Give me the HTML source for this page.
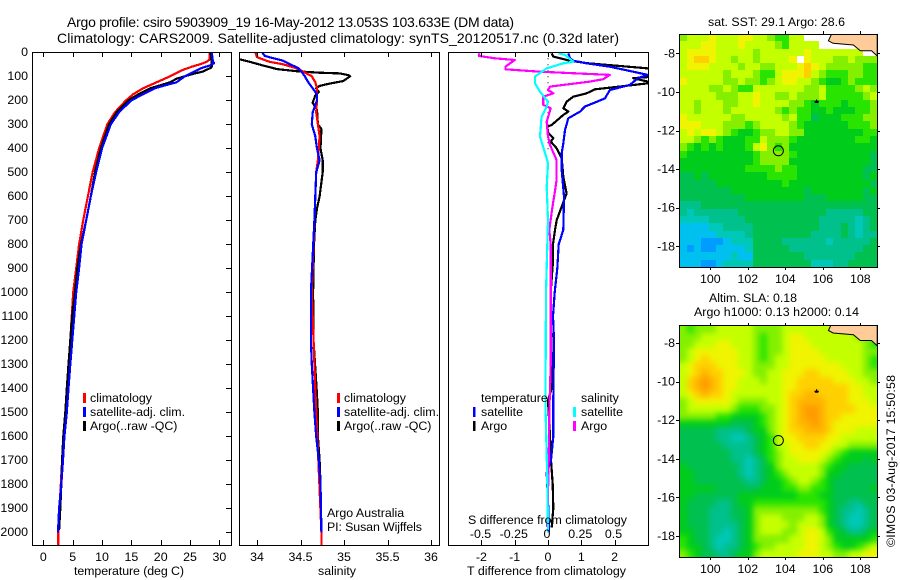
<!DOCTYPE html>
<html lang="en">
<head>
<meta charset="utf-8">
<title>Argo profile csiro 5903909_19</title>
<style>
html,body{margin:0;padding:0;background:#fff;}
svg{display:block;font-family:"Liberation Sans",sans-serif;font-size:12.4px;fill:#000;}
text{fill:#000;}
</style>
</head>
<body>
<svg id="chart" xmlns="http://www.w3.org/2000/svg" width="900" height="580" viewBox="0 0 900 580">
  <defs>
    <clipPath id="clip-temp"><rect x="32" y="52" width="199" height="493"/></clipPath>
    <clipPath id="clip-sal"><rect x="240" y="52" width="199" height="493"/></clipPath>
    <clipPath id="clip-diff"><rect x="449" y="52" width="199" height="493"/></clipPath>
    <clipPath id="clip-map1"><rect x="679" y="34" width="198" height="233"/></clipPath>
    <clipPath id="clip-map2"><rect x="679" y="326" width="198" height="231"/></clipPath>
    <filter id="smooth-sla" filterUnits="userSpaceOnUse" x="650" y="300" width="250" height="280" color-interpolation-filters="sRGB">
      <feGaussianBlur stdDeviation="3"/>
    </filter>
  </defs>
  <text x="67" y="27" font-size="14" textLength="447" lengthAdjust="spacing">Argo profile: csiro 5903909_19 16-May-2012 13.053S 103.633E (DM data)</text>
  <text x="57" y="43" font-size="14" textLength="562" lengthAdjust="spacing">Climatology: CARS2009. Satellite-adjusted climatology: synTS_20120517.nc (0.32d later)</text>

  <g id="marks"></g>

  <text x="74" y="575" textLength="110" lengthAdjust="spacing">temperature (deg C)</text>
  <text x="318" y="575" textLength="38" lengthAdjust="spacing">salinity</text>
  <text x="467" y="575" textLength="159" lengthAdjust="spacing">T difference from climatology</text>
  <text x="468" y="524" textLength="159" lengthAdjust="spacing">S difference from climatology</text>

  <g>
    <rect x="83" y="393" width="3" height="10" fill="#ff0000"/><text x="90" y="402">climatology</text>
    <rect x="83" y="407" width="3" height="10" fill="#0000ff"/><text x="90" y="416">satellite-adj. clim.</text>
    <rect x="83" y="421" width="3" height="10" fill="#000000"/><text x="90" y="430">Argo(..raw -QC)</text>
  </g>
  <g>
    <rect x="337" y="393" width="3" height="10" fill="#ff0000"/><text x="344" y="402">climatology</text>
    <rect x="337" y="407" width="3" height="10" fill="#0000ff"/><text x="344" y="416">satellite-adj. clim.</text>
    <rect x="337" y="421" width="3" height="10" fill="#000000"/><text x="344" y="430">Argo(..raw -QC)</text>
  </g>
  <g>
    <text x="481" y="402">temperature</text>
    <rect x="473" y="407" width="2.5" height="10" fill="#0000ff"/><text x="481" y="416">satellite</text>
    <rect x="473" y="421" width="2.5" height="10" fill="#000000"/><text x="481" y="430">Argo</text>
    <text x="581" y="402">salinity</text>
    <rect x="573" y="407" width="3" height="10" fill="#00ffff"/><text x="581" y="416">satellite</text>
    <rect x="573" y="421" width="3" height="10" fill="#ff00ff"/><text x="581" y="430">Argo</text>
  </g>
  <text x="327" y="517">Argo Australia</text>
  <text x="327" y="531" textLength="95" lengthAdjust="spacing">PI: Susan Wijffels</text>

  <text x="708" y="26" textLength="137" lengthAdjust="spacing">sat. SST: 29.1 Argo: 28.6</text>
  <text x="709" y="302" textLength="88" lengthAdjust="spacing">Altim. SLA: 0.18</text>
  <text x="694" y="316" textLength="165" lengthAdjust="spacing">Argo h1000: 0.13 h2000: 0.14</text>
  <text transform="translate(895,547) rotate(-90)" textLength="172" lengthAdjust="spacing">©IMOS 03-Aug-2017 15:50:58</text>
</svg>

<script>
// ---- axis tick labels ----
const depthTicks = [0,100,200,300,400,500,600,700,800,900,1000,1100,1200,1300,1400,1500,1600,1700,1800,1900,2000];
const tempTicks = [0,5,10,15,20,25,30];
const salTicks = [34,34.5,35,35.5,36];
const tDiffTicks = [-2,-1,0,1,2];
const sDiffTicks = [-0.5,-0.25,0,0.25,0.5];
const lonTicks = [100,102,104,106,108];
const latTicks = [-8,-10,-12,-14,-16,-18];

// ---- temperature profiles ----
const argoTempDepth = [0,50,60,65,80,90,100,110,125,150,175,200,250,300,350,400,500,600,700,800,900,1000,1100,1200,1300,1400,1500,1600,1700,1800,1900,1990];
const argoTempValues = [28.5,28.7,28.7,28.5,27.2,25.5,24.1,22.7,21.6,18.2,16.2,14.5,12.5,11.2,10.5,9.8,8.8,8.1,7.3,6.4,5.8,5.4,4.9,4.6,4.3,4.0,3.75,3.4,3.2,3.07,2.9,2.7];
const climTempDepth = [0,30,40,50,60,75,100,125,150,175,200,250,300,400,500,600,700,800,900,1000,1200,1400,1700,2000,2054];
const climTempValues = [28.35,28.35,27.8,26.7,25.3,23.6,21.6,19.3,17,15.3,14.1,12.2,10.9,9.5,8.4,7.6,6.8,6.1,5.6,5.1,4.6,4.05,3.2,2.55,2.55];
const satTempDepth = [0,40,45,55,65,80,100,125,140,150,175,200,250,300,400,500,600,700,800,900,1000,1300,1400,1500,1600,1700,1800,1900,2000];
const satTempValues = [28.7,28.9,29.1,28.4,27,25.8,24.1,22.7,20.4,19,17,15,12.9,11.5,10,9,8.1,7.3,6.5,6.1,5.6,4.6,4.3,4,3.6,3.35,3.07,2.7,2.5];

// ---- salinity profiles ----
const argoSalDepth = [29,40,55,70,80,85,88,95,100,110,120,130,140,150,165,180,210,240,300,320,400,450,500,600,650,700,800,1000,1200,1400,1500,1600,1700,1800,1990];
const argoSalValues = [33.8,33.92,34.07,34.23,34.49,34.72,34.95,35.05,35.07,35.03,34.99,34.84,34.72,34.68,34.71,34.67,34.64,34.69,34.7,34.74,34.73,34.755,34.755,34.72,34.69,34.67,34.655,34.645,34.65,34.685,34.7,34.7,34.72,34.73,34.74];
const climSalDepth = [0,20,30,40,50,65,80,100,125,150,200,250,300,350,450,500,1000,1400,2000,2054];
const climSalValues = [33.98,34,34.07,34.15,34.3,34.44,34.53,34.63,34.67,34.69,34.69,34.68,34.7,34.72,34.7,34.68,34.63,34.67,34.74,34.74];
const satSalDepth = [0,15,25,35,50,65,80,100,125,150,175,200,250,300,350,400,450,500,700,1000,1200,1300,1400,1500,1600,1700,1800,2000];
const satSalValues = [34.06,34.09,34.19,34.3,34.38,34.47,34.51,34.55,34.59,34.64,34.69,34.69,34.64,34.63,34.67,34.69,34.72,34.68,34.66,34.62,34.62,34.63,34.645,34.66,34.68,34.71,34.73,34.74];

// ---- differences from climatology ----
const argoTDiffDepth = [4,18,35,46,67,87,108,122,129,146,154,171,185,206,233,247,261,303,310,337,358,372,400,442,518,588,643,699,740,800,870,1000,1100,1400,1450,1600,1700,1800,1900,1980];
const argoTDiffValues = [0.11,0.16,0.66,1.21,3.01,4.5,2.56,3.0,3.0,1.96,1.41,1.16,0.76,0.56,0.46,0.61,0.46,0.11,-0.02,0.01,0.16,0.08,0.26,0.41,0.46,0.56,0.41,0.26,0.21,0.15,0.15,0.08,0.09,0.11,0,0.06,0.09,0.14,0.16,0.11];
const satTDiffDepth = [4,25,35,46,60,81,94,108,136,157,192,212,226,247,275,324,379,421,490,601,740,800,900,1000,1100,1200,1300,1450,1600,1700,1752,1900,2000];
const satTDiffValues = [0.61,0.66,0.76,1.16,1.86,2.56,2.99,2.7,2.46,1.86,1.71,1.36,1.11,0.96,0.61,0.51,0.46,0.41,0.41,0.48,0.46,0.32,0.28,0.2,0.15,0.18,0.17,0.16,0.16,0.09,-0.04,0.01,0.03];
const argoSDiffDepth = [4,15,25,32,60,71,81,94,112,122,143,157,171,185,219,233,289,351,386,449,532,588,657,740,800,1000,1300,1400,1500,1700,1977];
const argoSDiffValues = [-0.515,-0.52,-0.4,-0.25,-0.32,-0.32,-0.06,0.465,0.415,0.315,0.015,0,0.04,-0.035,-0.035,0.02,-0.01,0,0.015,0.065,0.065,0.05,0.03,0.01,0.02,0.02,0.02,0.015,0.01,0.005,-0.005];
const satSDiffDepth = [4,11,39,46,67,101,129,164,206,226,268,351,443,463,560,700,1000,1330,1500,1780,2000];
const satSDiffValues = [0.078,0.128,0.19,0.115,-0.01,-0.098,-0.098,-0.06,0,-0.01,-0.048,-0.06,-0.01,0,-0.01,0,-0.015,-0.018,-0.018,-0.005,0];

// ---- geography ----
const coastLon = [106.47,106.3,106.55,107.63,108.0,108.6,108.9,108.9,106.47];
const coastLat = [-7.0,-7.35,-7.48,-7.57,-7.87,-7.87,-8.14,-7.0,-7.0];
const profileLon = 103.63;
const profileLat = -13.05;
const islandLon = 105.67;
const islandLat = -10.5;

// ---- colour bins, low to high ----
const mapPalette = ['#009cff','#00c0f0','#00c8b8','#00c08c','#00c050','#00cc1c','#28e400','#84f000','#c4ff00','#f0f400','#ffd000','#ffb400','#ff9c00'];

// ---- satellite SST cells, north to south, -1 = no data ----
const sstRow00 = [7,8,8,8,9,8,8,8,9,9,8,8,7,6,6,8,8,-1,-1,-1,-1,8,8,8,8,8,8];
const sstRow01 = [8,8,8,9,9,8,8,8,9,8,8,8,8,7,6,8,8,8,8,-1,-1,-1,-1,-1,-1,8,8];
const sstRow02 = [8,9,9,9,9,8,8,8,8,8,7,8,8,8,8,8,8,9,8,8,8,8,8,8,8,-1,-1];
const sstRow03 = [8,9,10,10,9,8,8,7,8,8,7,8,8,8,8,9,-1,9,8,8,8,7,7,8,7,7,7];
const sstRow04 = [8,9,9,9,8,8,8,8,7,8,8,7,7,8,8,8,9,10,9,8,7,7,7,7,7,6,6];
const sstRow05 = [8,8,8,8,8,8,7,8,8,8,7,6,6,8,9,9,9,10,8,7,6,6,6,7,7,6,6];
const sstRow06 = [9,8,8,8,8,8,7,7,8,7,7,6,7,8,9,9,8,8,7,6,5,5,6,7,6,6,6];
const sstRow07 = [8,8,8,8,7,7,8,7,6,6,8,8,8,8,8,8,8,7,7,8,6,6,6,6,7,8,7];
const sstRow08 = [8,8,8,8,8,7,7,7,8,8,9,8,8,7,7,8,7,7,7,8,6,6,6,6,6,7,8];
const sstRow09 = [8,8,7,8,8,8,7,7,8,8,9,8,8,8,8,7,7,6,5,6,6,6,5,6,6,6,7];
const sstRow10 = [8,8,7,8,8,8,7,8,8,8,8,8,8,7,6,7,6,6,5,5,6,5,5,5,6,6,7];
const sstRow11 = [9,8,8,8,8,8,8,7,7,8,8,8,8,8,7,8,6,6,4,5,5,5,6,6,6,7,7];
const sstRow12 = [9,9,9,8,8,8,7,7,7,6,7,8,8,8,8,7,6,5,5,5,5,5,5,6,6,6,7];
const sstRow13 = [8,9,8,9,9,8,7,6,5,5,6,7,7,8,8,7,7,5,5,5,5,5,5,5,5,6,6];
const sstRow14 = [8,8,7,6,7,6,5,5,5,6,6,8,7,7,7,6,5,5,5,5,5,5,5,5,6,6,5];
const sstRow15 = [7,6,5,6,5,6,5,5,5,6,8,9,7,6,7,5,5,5,5,5,5,5,5,5,5,5,5];
const sstRow16 = [6,5,5,5,5,5,5,5,5,5,6,7,7,7,7,6,5,5,5,5,5,5,5,5,5,5,4];
const sstRow17 = [5,5,5,5,5,5,5,5,5,5,6,7,7,7,7,5,5,5,5,5,5,5,5,5,5,5,4];
const sstRow18 = [5,5,5,5,5,5,5,5,5,6,6,6,6,7,6,6,5,5,5,5,5,5,5,5,5,4,4];
const sstRow19 = [4,4,5,4,5,5,5,5,5,5,5,5,6,6,6,6,5,5,5,5,5,5,5,5,5,4,5];
const sstRow20 = [4,4,4,4,4,5,5,5,5,5,5,5,5,5,6,5,5,5,5,5,5,5,5,5,5,5,4];
const sstRow21 = [4,4,4,4,4,4,4,5,5,5,5,5,5,5,5,5,5,4,5,5,5,5,5,5,5,4,5];
const sstRow22 = [4,4,4,4,4,4,4,4,4,5,5,5,5,5,5,5,5,4,4,4,5,5,5,5,5,4,4];
const sstRow23 = [3,3,3,4,4,4,4,4,4,4,4,4,4,4,4,4,4,4,4,4,4,4,4,4,4,4,4];
const sstRow24 = [3,2,3,3,3,3,3,3,4,4,4,4,4,4,4,4,4,4,4,4,3,3,3,3,3,4,4];
const sstRow25 = [2,2,2,2,3,3,3,3,3,4,4,4,4,4,4,4,4,4,4,3,3,3,3,3,2,3,4];
const sstRow26 = [1,1,1,1,2,2,3,3,3,3,4,4,4,4,4,4,4,4,4,3,3,3,4,3,2,3,4];
const sstRow27 = [1,1,1,1,1,2,2,2,2,3,4,4,4,4,4,4,4,4,3,3,3,3,4,3,2,3,3];
const sstRow28 = [1,1,1,0,0,0,1,2,2,2,4,4,4,4,3,3,3,3,3,3,2,3,3,3,3,3,4];
const sstRow29 = [1,0,1,0,0,1,1,1,1,2,4,4,4,4,4,3,3,3,3,3,3,3,3,3,3,4,4];
const sstRow30 = [1,1,1,1,1,1,1,2,1,1,4,4,4,4,4,4,4,3,3,3,3,3,3,3,4,4,4];
const sstRow31 = [1,1,1,0,0,1,2,2,2,2,4,4,4,4,4,4,4,4,2,2,2,3,3,4,4,4,4];
const sstCells = [sstRow00,sstRow01,sstRow02,sstRow03,sstRow04,sstRow05,sstRow06,sstRow07,sstRow08,sstRow09,sstRow10,sstRow11,sstRow12,sstRow13,sstRow14,sstRow15,sstRow16,sstRow17,sstRow18,sstRow19,sstRow20,sstRow21,sstRow22,sstRow23,sstRow24,sstRow25,sstRow26,sstRow27,sstRow28,sstRow29,sstRow30,sstRow31];

// ---- altimetry SLA cells, north to south ----
const slaRow00 = [7,6,7,7,7,8,8,8,8,8,7,7,7,7,8,8,8,8,8,8,8,8,8,8,8,8,8];
const slaRow01 = [7,7,7,8,8,8,8,8,8,8,7,6,7,7,8,9,9,8,8,8,8,8,8,8,7,7,7];
const slaRow02 = [7,7,8,8,8,9,9,8,8,8,7,6,7,7,8,9,9,9,8,8,8,8,8,8,8,7,6];
const slaRow03 = [7,8,9,9,9,9,9,9,8,8,7,6,7,7,8,9,9,9,9,8,8,8,8,8,8,7,7];
const slaRow04 = [7,8,9,10,9,9,9,9,8,8,7,6,7,8,8,9,9,9,9,9,8,8,8,8,8,7,6];
const slaRow05 = [8,9,10,10,10,9,9,9,8,8,7,7,7,8,8,9,9,9,9,9,9,9,8,8,8,7,6];
const slaRow06 = [8,9,10,11,10,10,9,9,9,8,7,7,8,8,9,9,9,10,10,9,9,9,9,8,8,7,7];
const slaRow07 = [8,10,11,12,11,10,9,9,8,8,8,7,8,8,9,9,10,10,10,10,10,9,9,9,8,8,7];
const slaRow08 = [8,10,11,12,11,10,9,9,8,8,8,8,8,8,9,9,10,10,10,10,10,10,10,9,9,8,8];
const slaRow09 = [8,9,10,11,10,10,9,8,8,8,8,8,8,8,9,10,10,11,11,10,10,10,10,9,9,8,8];
const slaRow10 = [7,8,9,9,9,9,9,8,7,7,7,7,8,8,9,10,11,11,11,11,10,10,10,9,9,9,8];
const slaRow11 = [7,8,8,8,8,8,8,7,6,6,6,7,7,8,9,10,11,12,12,11,10,10,10,10,9,9,9];
const slaRow12 = [7,7,7,7,7,6,6,5,5,5,5,6,7,8,9,10,11,12,12,11,10,10,9,9,9,9,9];
const slaRow13 = [5,5,5,5,5,5,5,4,4,4,5,6,7,8,9,10,11,11,12,11,10,9,9,9,9,9,9];
const slaRow14 = [4,4,4,4,4,3,3,3,3,4,5,5,7,8,9,10,10,11,11,11,10,9,9,9,8,8,8];
const slaRow15 = [4,4,4,4,4,3,3,2,2,3,4,5,6,8,9,9,10,10,10,10,9,9,8,8,8,8,8];
const slaRow16 = [4,4,4,4,4,4,3,3,3,3,4,5,6,8,8,9,9,10,10,9,9,8,8,7,7,7,7];
const slaRow17 = [4,4,4,4,4,4,4,3,3,3,4,5,6,7,8,9,9,9,9,9,8,7,6,5,5,5,5];
const slaRow18 = [4,4,4,4,4,4,4,3,3,2,3,4,6,7,8,8,9,9,9,8,7,6,5,5,5,4,5];
const slaRow19 = [5,4,4,4,4,4,4,4,3,2,3,4,5,7,8,8,8,8,8,7,6,5,5,4,4,4,4];
const slaRow20 = [5,5,4,4,4,4,4,4,3,2,3,4,5,6,7,8,8,8,8,7,5,5,4,4,4,4,4];
const slaRow21 = [5,5,4,4,4,4,4,4,4,3,3,4,5,5,6,7,8,8,7,6,5,4,4,4,4,4,4];
const slaRow22 = [5,5,5,5,5,4,4,4,4,4,4,5,5,5,6,6,7,7,6,6,5,4,4,4,4,4,5];
const slaRow23 = [5,5,4,4,4,4,4,4,5,5,5,5,5,5,5,5,6,6,6,5,5,4,4,4,4,4,4];
const slaRow24 = [5,4,4,4,4,3,3,4,5,5,6,6,6,6,6,6,6,6,6,6,5,4,4,3,3,4,4];
const slaRow25 = [5,4,4,4,3,3,3,4,4,5,7,7,7,7,7,7,7,7,7,6,5,4,3,3,2,3,4];
const slaRow26 = [5,4,4,4,3,3,3,4,4,5,7,8,8,8,7,7,7,8,8,7,5,4,3,2,2,3,4];
const slaRow27 = [5,4,4,4,3,3,3,3,4,5,7,8,8,8,8,7,8,8,8,7,5,4,3,2,2,3,4];
const slaRow28 = [5,5,4,4,3,3,2,3,4,5,7,8,8,8,7,7,8,9,9,8,6,5,4,3,3,4,5];
const slaRow29 = [6,5,4,4,3,2,2,3,4,5,7,7,7,7,7,8,8,9,9,8,7,5,5,5,5,5,6];
const slaRow30 = [6,5,5,4,3,2,3,3,4,5,6,7,7,8,8,8,8,9,9,8,7,6,5,5,6,7,8];
const slaRow31 = [7,6,5,4,4,3,3,4,5,5,7,8,8,8,8,8,9,9,9,8,8,7,7,8,8,9,9];
const slaCells = [slaRow00,slaRow01,slaRow02,slaRow03,slaRow04,slaRow05,slaRow06,slaRow07,slaRow08,slaRow09,slaRow10,slaRow11,slaRow12,slaRow13,slaRow14,slaRow15,slaRow16,slaRow17,slaRow18,slaRow19,slaRow20,slaRow21,slaRow22,slaRow23,slaRow24,slaRow25,slaRow26,slaRow27,slaRow28,slaRow29,slaRow30,slaRow31];

// ---- axis functions ----
function yDepth(d){ return 52.3 + d * 0.24; }
function xTemp(t){ return 43.3 + t * 5.87; }
function xSal(s){ return 257 + (s - 34) * 87; }
function xTDiff(t){ return 548 + t * 33.3; }
function xSDiff(s){ return 548 + s * 133; }
function xLon(lon){ return 710.3 + (lon - 100) * 18.75; }
function yLat1(lat){ return 53.3 + (-8 - lat) * 19.3; }
function yLat2(lat){ return 343 + (-8 - lat) * 19.3; }

const NS = 'http://www.w3.org/2000/svg';
const marks = document.getElementById('marks');
function make(tag, attrs, parent){
  const el = document.createElementNS(NS, tag);
  for (const k in attrs) el.setAttribute(k, attrs[k]);
  (parent || marks).appendChild(el);
  return el;
}
function tickLine(x1, y1, x2, y2, parent){
  const el = make('line', {x1:x1, y1:y1, x2:x2, y2:y2, stroke:'#000', 'stroke-width':1, 'shape-rendering':'crispEdges'}, parent);
  
  
  return el;
}
function tickLabel(x, y, anchor, str, parent){
  const el = make('text', {x:x, y:y, 'text-anchor':anchor}, parent);
  el.textContent = str;
  
  
  return el;
}
function frame(x, y, w, h, name){
  const el = make('rect', {x:x, y:y, width:w, height:h, fill:'none', stroke:'#000', 'stroke-width':1, 'shape-rendering':'crispEdges'});
  
  
}
function profile(depths, values, xFn, color, clip, name){
  let pts = '';
  for (let i = 0; i < depths.length; i++){
    pts += xFn(values[i]).toFixed(1) + ',' + yDepth(depths[i]).toFixed(1) + ' ';
  }
  const el = make('polyline', {points:pts.trim(), fill:'none', stroke:color, 'stroke-width':2.2, 'stroke-linejoin':'round', 'clip-path':'url(#' + clip + ')', 'shape-rendering':'crispEdges'});
  
  
}

// ---- heatmaps ----
function heatmap(cells, yTop, height, name, yLat, smooth){
  const left = 679.3, width = 198, pad = smooth ? 14 : 0;
  const g = make('g', {'clip-path':'url(#' + (name === 'sst' ? 'clip-map1' : 'clip-map2') + ')'});
  
  
  const cellGroup = make('g', smooth ? {filter:'url(#smooth-sla)'} : {}, g);
  
  
  const rowH = height / cells.length;
  cells.forEach(function(row, r){
    const colW = width / row.length;
    row.forEach(function(v, c){
      let x0 = Math.round(left + c * colW), x1 = Math.round(left + (c + 1) * colW);
      let y0 = Math.round(yTop + r * rowH), y1 = Math.round(yTop + (r + 1) * rowH);
      if (c === 0) x0 -= pad;
      if (c === row.length - 1) x1 += pad;
      if (r === 0) y0 -= pad;
      if (r === cells.length - 1) y1 += pad;
      const cell = make('rect', {x:x0, y:y0, width:x1 - x0, height:y1 - y0, fill: v < 0 ? '#ffffff' : mapPalette[v]}, cellGroup);
      
      
    });
  });
  // land
  let pts = '';
  for (let i = 0; i < coastLon.length; i++){
    pts += xLon(coastLon[i]).toFixed(1) + ',' + yLat(coastLat[i]).toFixed(1) + ' ';
  }
  const land = make('polygon', {points:pts.trim(), fill:'#ffcc99', stroke:'#000', 'stroke-width':1}, g);
  
  
  // island
  const island = make('path', {d:'M' + (xLon(islandLon) - 2.5) + ' ' + (yLat(islandLat) - 0.5) + 'h5l-1 2h-3z M' + (xLon(islandLon) - 0.6) + ' ' + (yLat(islandLat) - 2) + 'h1.2v2h-1.2z', fill:'#000'}, g);
  
  
  // profile location
  const loc = make('circle', {cx:xLon(profileLon), cy:yLat(profileLat), r:5, fill:'none', stroke:'#000', 'stroke-width':1}, g);
  
  
}
heatmap(sstCells, 34, 233, 'sst', yLat1, false);
heatmap(slaCells, 326, 231, 'sla', yLat2, true);

// ---- profile series ----
profile(climTempDepth, climTempValues, xTemp, '#ff0000', 'clip-temp', 'temperature-climatology-line');
profile(argoTempDepth, argoTempValues, xTemp, '#000000', 'clip-temp', 'temperature-argo-line');
profile(satTempDepth, satTempValues, xTemp, '#0000ff', 'clip-temp', 'temperature-satellite-line');

profile(argoSalDepth, argoSalValues, xSal, '#000000', 'clip-sal', 'salinity-argo-line');
profile(climSalDepth, climSalValues, xSal, '#ff0000', 'clip-sal', 'salinity-climatology-line');
profile(satSalDepth, satSalValues, xSal, '#0000ff', 'clip-sal', 'salinity-satellite-line');

const zeroLine = make('line', {x1:xTDiff(0), y1:yDepth(0), x2:xTDiff(0), y2:yDepth(420), stroke:'#000', 'stroke-width':1, 'stroke-dasharray':'1 5'});


profile(argoTDiffDepth, argoTDiffValues, xTDiff, '#000000', 'clip-diff', 't-difference-argo-line');
profile(satTDiffDepth, satTDiffValues, xTDiff, '#0000ff', 'clip-diff', 't-difference-satellite-line');
profile(argoSDiffDepth, argoSDiffValues, xSDiff, '#ff00ff', 'clip-diff', 's-difference-argo-line');
profile(satSDiffDepth, satSDiffValues, xSDiff, '#00ffff', 'clip-diff', 's-difference-satellite-line');

// ---- frames ----
frame(32.5, 52.5, 199, 493, 'temperature-panel-frame');
frame(239.5, 52.5, 200, 493, 'salinity-panel-frame');
frame(448.5, 52.5, 200, 493, 'difference-panel-frame');
frame(679.5, 34.5, 198, 233, 'sst-map-frame');
frame(679.5, 325.5, 198, 232, 'sla-map-frame');

// ---- ticks ----
depthTicks.forEach(function(d){
  const y = Math.round(yDepth(d)) + 0.5;
  if (d > 0) tickLine(226, y, 231, y);
  tickLabel(28, yDepth(d) + 3.5, 'end', String(d));
});
tempTicks.forEach(function(t){
  const x = Math.round(xTemp(t)) + 0.5;
  tickLine(x, 52, x, 57); tickLine(x, 540, x, 545);
  tickLabel(xTemp(t), 561, 'middle', String(t));
});
salTicks.forEach(function(s){
  const x = Math.round(xSal(s)) + 0.5;
  tickLine(x, 52, x, 57); tickLine(x, 540, x, 545);
  tickLabel(xSal(s), 561, 'middle', String(s));
});
tDiffTicks.forEach(function(t){
  const x = Math.round(xTDiff(t)) + 0.5;
  tickLine(x, 52, x, 57); tickLine(x, 540, x, 545);
  tickLabel(xTDiff(t), 561, 'middle', String(t));
});
sDiffTicks.forEach(function(s){
  tickLabel(xSDiff(s) - 1, 538, 'middle', String(s));
});
[[yLat1, 34, 267, 283], [yLat2, 326, 557, 573]].forEach(function(m){
  lonTicks.forEach(function(lon){
    const x = Math.round(xLon(lon)) + 0.5;
    tickLine(x, m[1] - 3, x, m[1]); tickLine(x, m[2], x, m[2] + 3);
    tickLabel(xLon(lon), m[3], 'middle', String(lon));
  });
  latTicks.forEach(function(lat){
    const y = Math.round(m[0](lat)) + 0.5;
    tickLine(676, y, 679, y); tickLine(877, y, 880, y);
    tickLabel(675, m[0](lat) + 4, 'end', String(lat));
  });
});
</script>
</body>
</html>
